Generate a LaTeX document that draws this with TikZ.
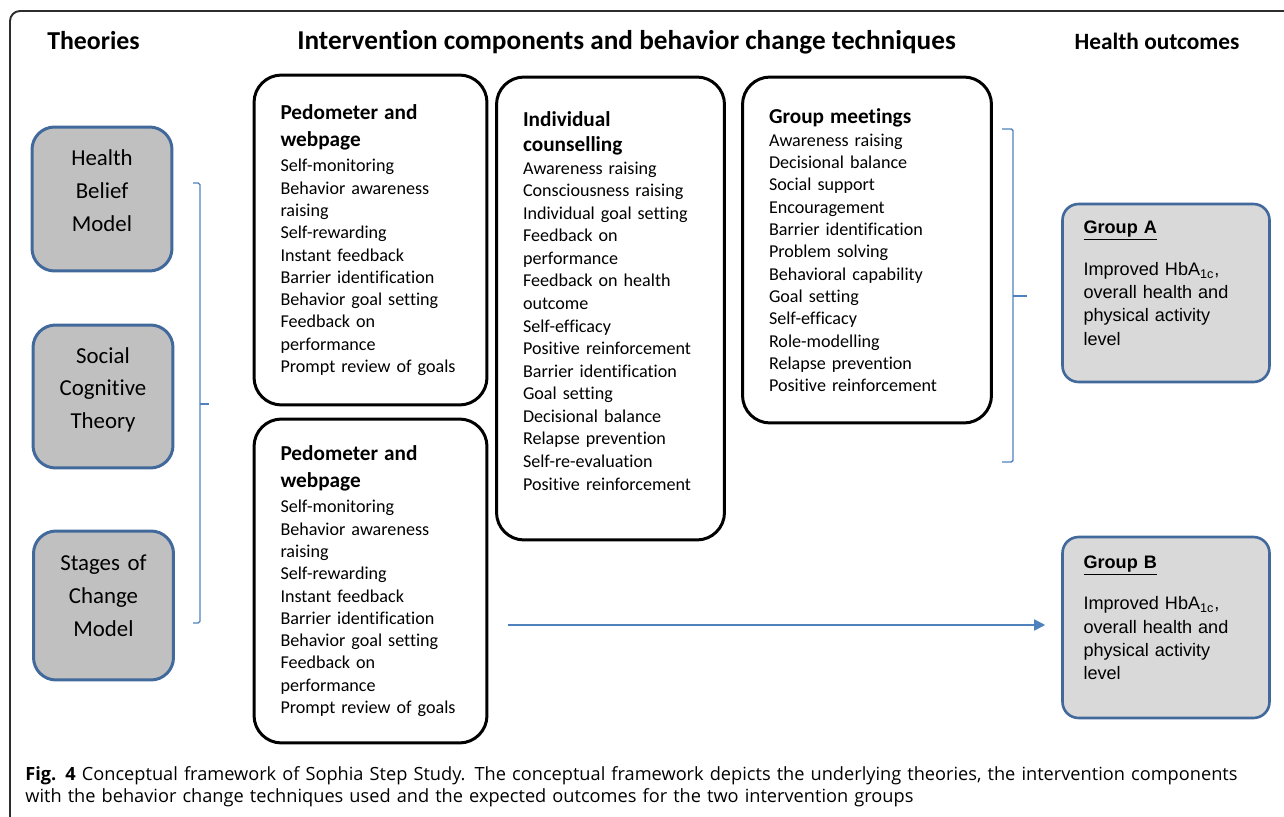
\documentclass[tikz,border=0pt]{standalone}
\usepackage{fontspec}
\setmainfont{Carlito}[Ligatures=NoCommon]
\newfontfamily\arialfont{Liberation Sans}
\newfontfamily\captionfont{Open Sans}
\usetikzlibrary{%
  arrows.meta,%
  positioning% wg. " of "
}
\definecolor{theoryblue}{RGB}{65,105,155}
\definecolor{bracketblue}{RGB}{79,129,189}
\definecolor{theorygray}{RGB}{192,192,192}
\definecolor{outcomegray}{RGB}{217,217,217}
\definecolor{framegray}{RGB}{45,45,45}
\newcommand{\boxtitle}{\fontsize{12.1}{14}\selectfont\bfseries}
\newcommand{\lift}[1]{\rule[-#1]{0pt}{#1}}

\begin{document}
\begin{tikzpicture}
[x=0.02cm, y=-0.02cm, line join=round,
head/.style={font=\bfseries, inner sep=0pt, anchor=base},
theory/.style={rectangle, rounded corners=0.45cm, draw=theoryblue, fill=theorygray, line width=1.7pt, text width=2.4cm, align=center, inner sep=0pt, minimum width=2.8cm, font=\fontsize{13}{18.7}\selectfont},
comp/.style={rectangle, rounded corners=0.55cm, draw=black, line width=1.7pt, align=left, inner xsep=0.53cm, inner ysep=0pt, font=\fontsize{10.3}{12.7}\selectfont},
outcome/.style={rectangle, rounded corners=0.32cm, draw=theoryblue, fill=outcomegray, line width=1.5pt, align=left, inner xsep=0.42cm, inner ysep=0pt, text width=3.3cm, minimum width=4.14cm, font=\arialfont\fontsize{10.3}{13.2}\selectfont},
brace/.style={draw=bracketblue, line width=0.8pt, rounded corners=1pt},
arrowline/.style={draw=bracketblue, line width=1pt, -{Triangle[length=0.22cm, width=0.22cm]}}]

\useasboundingbox (0,0) rectangle (1284,817);

% frame
\draw[framegray, line width=1.1pt, rounded corners=0.2cm] (10,817) -- (10,11) -- (1284,11);

% column heads
\node[head, font=\fontsize{14.7}{17}\selectfont\bfseries] (theories) at (93.5,50) {Theories};
\node[head, font=\fontsize{15.5}{18}\selectfont\bfseries] (components) at (626.5,50) {Intervention components and behavior change techniques};
\node[head, font=\fontsize{13.3}{16}\selectfont\bfseries] (outcomes) at (1157,50) {Health outcomes};

% theories
\node[theory, minimum height=2.88cm] (hbm) at (102,199) {Health\\Belief\\Model\lift{0.34cm}};
\node[theory, minimum height=2.86cm] (sct) at (103,396.5) {Social\\Cognitive\\Theory\lift{0.34cm}};
\node[theory, minimum height=2.98cm] (scm) at (103.5,605.5) {Stages of\\Change\\Model\lift{0.4cm}};

\draw[brace] (193,183) -- (200,183) -- (200,623) -- (193,623);
\draw[brace] (200,404) -- (209,404);

% intervention components
\node[comp, minimum width=4.66cm, minimum height=6.6cm, text width=3.6cm] (pedoA) at (370.5,240)
  {{\boxtitle Pedometer and\\[3pt] webpage}\\[1.5pt]
   Self-monitoring\\ Behavior awareness\\ raising\\ Self-rewarding\\ Instant feedback\\
   Barrier identification\\ Behavior goal setting\\ Feedback on\\ performance\\ Prompt review of goals};

\node[comp, minimum width=4.54cm, minimum height=9.26cm, text width=3.5cm,
      font=\fontsize{10.3}{12.85}\selectfont] (counsel) at (610.5,308.5)
  {{\boxtitle Individual\\[1.2pt] counselling}\\[0pt]
   Awareness raising\\ Consciousness raising\\ Individual goal setting\\ Feedback on\\ performance\\
   Feedback on health\\ outcome\\ Self-efficacy\\ Positive reinforcement\\ Barrier identification\\
   Goal setting\\ Decisional balance\\ Relapse prevention\\ Self-re-evaluation\\ Positive reinforcement\lift{0.3cm}};

\node[comp, minimum width=4.96cm, minimum height=6.92cm, text width=3.92cm] (meetings) at (867,250)
  {{\boxtitle Group meetings}\\[0.5pt]
   Awareness raising\\ Decisional balance\\ Social support\\ Encouragement\\ Barrier identification\\
   Problem solving\\ Behavioral capability\\ Goal setting\\ Self-efficacy\\ Role-modelling\\
   Relapse prevention\\ Positive reinforcement};

\node[comp, minimum width=4.66cm, minimum height=6.48cm, text width=3.6cm] (pedoB) at (370.5,581)
  {{\boxtitle Pedometer and\\[3pt] webpage}\\[1.5pt]
   Self-monitoring\\ Behavior awareness\\ raising\\ Self-rewarding\\ Instant feedback\\
   Barrier identification\\ Behavior goal setting\\ Feedback on\\ performance\\ Prompt review of goals};

\draw[brace] (1002,129) -- (1013,129) -- (1013,462) -- (1002,462);
\draw[brace] (1013,296) -- (1027,296);

% health outcomes
\node[outcome, minimum height=3.56cm] (groupA) at (1166,293)
  {\underline{\textbf{Group A}}\\[10.6pt]
   Improved HbA\textsubscript{1c},\\ overall health and\\ physical activity\\ level\lift{0.4cm}};
\node[outcome, minimum height=3.62cm] (groupB) at (1166,627.5)
  {\underline{\textbf{Group B}}\\[10.6pt]
   Improved HbA\textsubscript{1c},\\ overall health and\\ physical activity\\ level\lift{0.4cm}};

\coordinate (arrowstart) at (508,625);
\draw[arrowline, shorten >=0.32cm] (arrowstart) -- (arrowstart -| groupB.west);

% caption
\node[anchor=base west, text width=25cm, align=left, inner sep=0pt,
      font=\captionfont\fontsize{10.36}{13}\selectfont] (caption) at (25,780)
  {\textbf{Fig. 4} Conceptual framework of Sophia Step Study. The conceptual framework depicts the underlying theories, the intervention components\\
   with the behavior change techniques used and the expected outcomes for the two intervention groups};
\end{tikzpicture}
\end{document}
